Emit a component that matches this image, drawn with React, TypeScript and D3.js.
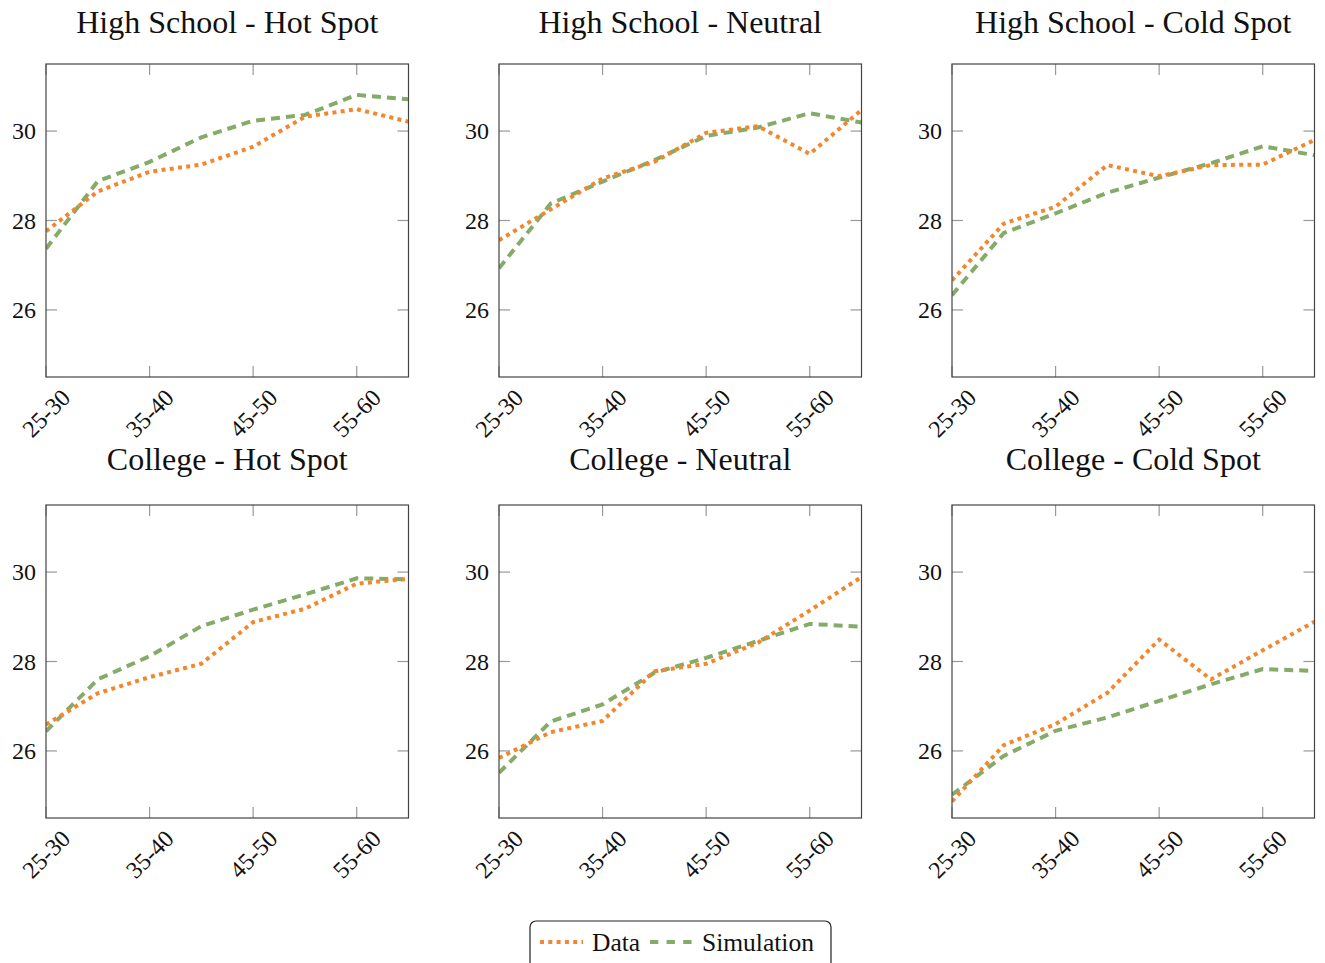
import React from "react";
import * as d3 from "d3";

const categories = ["25-30", "30-35", "35-40", "40-45", "45-50", "50-55", "55-60", "60-65"];
const tickLabels = ["25-30", "35-40", "45-50", "55-60"];
const yTicks = [26, 28, 30];

const titles = [
  "High School - Hot Spot",
  "High School - Neutral",
  "High School - Cold Spot",
  "College - Hot Spot",
  "College - Neutral",
  "College - Cold Spot",
];

const dataHSHot = [27.76, 28.65, 29.09, 29.25, 29.65, 30.32, 30.49, 30.21];
const simHSHot = [27.37, 28.88, 29.31, 29.86, 30.23, 30.36, 30.81, 30.71];
const dataHSNeutral = [27.56, 28.25, 28.94, 29.31, 29.96, 30.11, 29.49, 30.47];
const simHSNeutral = [26.93, 28.38, 28.87, 29.35, 29.89, 30.08, 30.4, 30.19];
const dataHSCold = [26.66, 27.93, 28.31, 29.24, 28.99, 29.24, 29.25, 29.8];
const simHSCold = [26.33, 27.72, 28.16, 28.62, 28.96, 29.28, 29.66, 29.46];
const dataColHot = [26.59, 27.29, 27.65, 27.95, 28.88, 29.18, 29.74, 29.85];
const simColHot = [26.44, 27.6, 28.12, 28.79, 29.16, 29.5, 29.86, 29.84];
const dataColNeutral = [25.84, 26.42, 26.67, 27.78, 27.95, 28.42, 29.14, 29.89];
const simColNeutral = [25.51, 26.66, 27.04, 27.75, 28.08, 28.46, 28.84, 28.78];
const dataColCold = [24.87, 26.13, 26.6, 27.3, 28.49, 27.6, 28.25, 28.89];
const simColCold = [25.02, 25.89, 26.45, 26.75, 27.12, 27.49, 27.83, 27.79];

const dataSeries = [dataHSHot, dataHSNeutral, dataHSCold, dataColHot, dataColNeutral, dataColCold];
const simSeries = [simHSHot, simHSNeutral, simHSCold, simColHot, simColNeutral, simColCold];

const ORANGE = "#f2872e";
const GREEN = "#84ab68";
const FONT = "'Liberation Serif', 'DejaVu Serif', serif";

const colX = [46, 499, 952];
const rowY = [64, 505];
const titleY = [33, 470];
const PW = 362.5;
const PH = 313;

function Panel({ idx }: { idx: number }) {
  const row = Math.floor(idx / 3);
  const x0 = colX[idx % 3];
  const y0 = rowY[row];
  const x = d3.scalePoint<string>().domain(categories).range([x0, x0 + PW]);
  const y = d3.scaleLinear().domain([24.5, 31.5]).range([y0 + PH, y0]);
  const line = d3
    .line<number>()
    .x((_, i) => x(categories[i]) as number)
    .y((d) => y(d));
  const tickLen = 11;
  return (
    <g>
      <defs>
        <clipPath id={`clip${idx}`}>
          <rect x={x0} y={y0} width={PW} height={PH} />
        </clipPath>
      </defs>
      {yTicks.map((t) => (
        <g key={t}>
          <line x1={x0} x2={x0 + tickLen} y1={y(t)} y2={y(t)} stroke="#999" strokeWidth={1.2} />
          <line x1={x0 + PW - tickLen} x2={x0 + PW} y1={y(t)} y2={y(t)} stroke="#999" strokeWidth={1.2} />
          <text x={x0 - 10} y={y(t)} dy="0.35em" textAnchor="end" fontFamily={FONT} fontSize={24} fill="#111">
            {t}
          </text>
        </g>
      ))}
      {tickLabels.map((c) => {
        const px = x(c) as number;
        return (
          <g key={c}>
            <line x1={px} x2={px} y1={y0} y2={y0 + tickLen} stroke="#999" strokeWidth={1.2} />
            <line x1={px} x2={px} y1={y0 + PH - tickLen} y2={y0 + PH} stroke="#999" strokeWidth={1.2} />
            <text
              transform={`translate(${px},${y0 + PH + 36}) rotate(-45)`}
              textAnchor="middle"
              dy="0.35em"
              fontFamily={FONT}
              fontSize={24}
              fill="#111"
            >
              {c}
            </text>
          </g>
        );
      })}
      <g clipPath={`url(#clip${idx})`}>
        <path
          d={line(simSeries[idx]) || ""}
          fill="none"
          stroke={GREEN}
          strokeWidth={4}
          strokeDasharray="9 6"
        />
        <path
          d={line(dataSeries[idx]) || ""}
          fill="none"
          stroke={ORANGE}
          strokeWidth={4}
          strokeDasharray="4 4.3"
        />
      </g>
      <rect x={x0} y={y0} width={PW} height={PH} fill="none" stroke="#444" strokeWidth={1.2} />
      <text
        x={x0 + PW / 2}
        y={titleY[row]}
        textAnchor="middle"
        fontFamily={FONT}
        fontSize={32}
        fill="#111"
      >
        {titles[idx]}
      </text>
    </g>
  );
}

export default function App() {
  return (
    <svg
      width={1325}
      height={963}
      style={{ position: "absolute", left: 0, top: 0, background: "#fff" }}
    >
      {titles.map((_, i) => (
        <Panel key={i} idx={i} />
      ))}
      <g>
        <rect x={530} y={921} width={301} height={50} rx={6} fill="#fff" stroke="#222" strokeWidth={1.2} />
        <line x1={540} x2={583} y1={942} y2={942} stroke={ORANGE} strokeWidth={4} strokeDasharray="4 4.3" />
        <text x={592} y={942} dy="0.35em" fontFamily={FONT} fontSize={25.5} fill="#111">
          Data
        </text>
        <line x1={650} x2={692} y1={942} y2={942} stroke={GREEN} strokeWidth={4} strokeDasharray="8.3 8.3" />
        <text x={702} y={942} dy="0.35em" fontFamily={FONT} fontSize={25.5} fill="#111">
          Simulation
        </text>
      </g>
    </svg>
  );
}
